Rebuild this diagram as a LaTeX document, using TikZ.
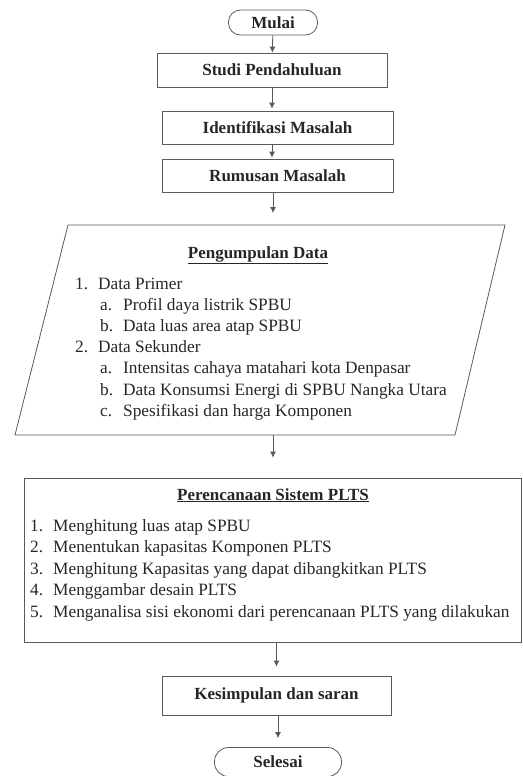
\documentclass[tikz,border=0pt]{standalone}
\usepackage{fontspec}
\setmainfont{Liberation Serif}
\usetikzlibrary{arrows.meta}

\tikzset{
  line/.style={draw=black!65, line width=0.8pt},
  box/.style={line, rectangle, inner sep=0pt, text=black!85,
    font=\fontsize{17}{20}\selectfont\bfseries},
  terminal/.style={box, rounded corners=12pt},
  arrow/.style={line, -{Latex[length=6pt,width=6pt]}},
  heading/.style={anchor=base, inner sep=0pt, text=black!85,
    font=\fontsize{17}{20}\selectfont\bfseries},
  item/.style={anchor=base west, inner sep=0pt, text=black!85,
    font=\fontsize{17.3}{20}\selectfont},
}

\begin{document}
\begin{tikzpicture}[x=1pt,y=-1pt]
    \useasboundingbox (0,0) rectangle (522,776);

    % upper part
    \node[terminal, minimum width=89pt, minimum height=25pt] (mulai) at (273,22.5) {Mulai};
    \node[box, minimum width=230pt, minimum height=34pt] (studi) at (272,70) {Studi Pendahuluan};
    \node[box, minimum width=231pt, minimum height=33pt] (ident) at (277.5,127.5) {Identifikasi Masalah};
    \node[box, minimum width=231pt, minimum height=33pt] (rumus) at (277.5,175.5) {Rumusan Masalah};

    % pengumpulan data
    \draw[line] (68,225) -- (505,225) -- (455,435) -- (15,435) -- cycle;
    \coordinate (pdtop) at (273,225);
    \coordinate (pdbot) at (273,435);
    \node[heading] (pdtitle) at (258,258) {\underline{Pengumpulan Data}};
    \foreach \dx/\num/\txt [count=\i] in {0/1./Data Primer,
        25/a./Profil daya listrik SPBU,
        25/b./Data luas area atap SPBU,
        0/2./Data Sekunder,
        25/a./Intensitas cahaya matahari kota Denpasar,
        25/b./Data Konsumsi Energi di SPBU Nangka Utara,
        25/c./Spesifikasi dan harga Komponen}
      \node[item] (pd\i) at ({75+\dx},{289+21.2*(\i-1)}) {\makebox[23pt][l]{\num}\txt};

    % perencanaan
    \node[box, minimum width=497pt, minimum height=164pt] (plan) at (272.5,560) {};
    \node[heading] (plantitle) at (273,500) {\underline{Perencanaan Sistem PLTS}};
    \foreach \num/\txt [count=\i] in {1./Menghitung luas atap SPBU,
        2./Menentukan kapasitas Komponen PLTS,
        3./Menghitung Kapasitas yang dapat dibangkitkan PLTS,
        4./Menggambar desain PLTS,
        5./Menganalisa sisi ekonomi dari perencanaan PLTS yang dilakukan}
      \node[item] (pp\i) at (30,{531+21.5*(\i-1)}) {\makebox[23pt][l]{\num}\txt};

    % lower part
    \node[box, minimum width=229pt, minimum height=39pt] (kesim) at (276.5,695.5) {Kesimpulan dan saran};
    \node[terminal, rounded corners=14pt, minimum width=127pt, minimum height=29pt] (selesai) at (278,762) {Selesai};

    % arrows
    \draw[arrow] (mulai) -- (studi);
    \draw[arrow, shorten >=2pt] (studi.south) -- (studi.south |- ident.north);
    \draw[arrow, shorten >=1pt] (ident.south -| studi.south) -- (rumus.north -| studi.south);
    \draw[arrow, shorten >=12pt] (rumus.south -| pdtop) -- (pdtop);
    \draw[arrow, shorten >=20pt] (pdbot) -- (plan.north -| pdbot);
    \draw[arrow, shorten >=9pt] (plan.south -| kesim.south) -- (kesim.north);
    \draw[arrow, shorten >=9pt] (kesim.south -| selesai.north) -- (selesai.north);
\end{tikzpicture}
\end{document}
